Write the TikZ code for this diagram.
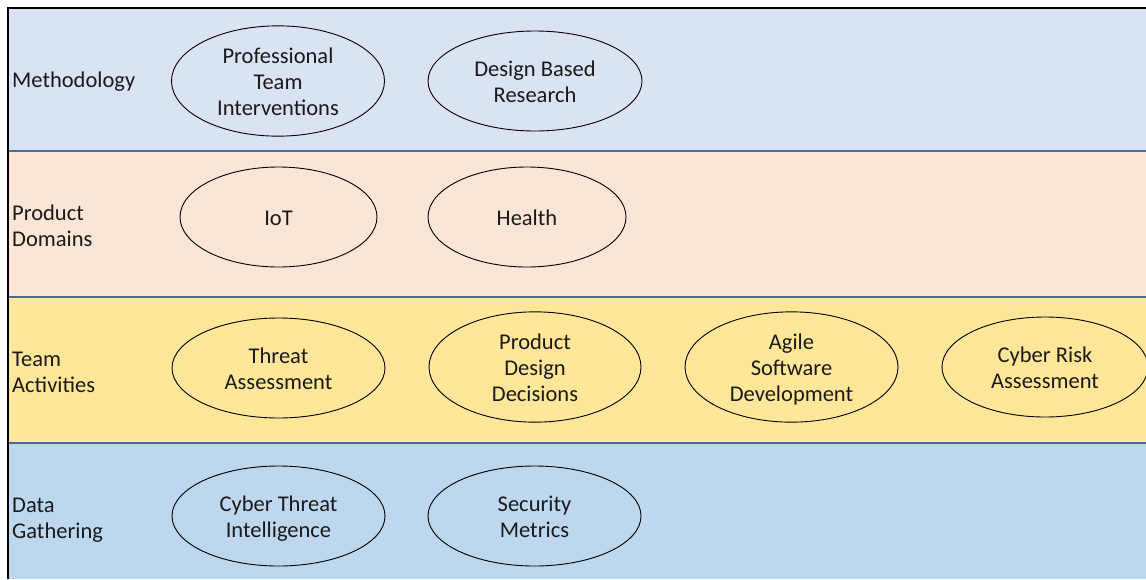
\documentclass[tikz,border=0pt]{standalone}
\usepackage{fontspec}
\setmainfont{Carlito}
\usetikzlibrary{shapes.geometric}
\definecolor{methc}{HTML}{DAE3F3}
\definecolor{prodc}{HTML}{FBE5D6}
\definecolor{teamc}{HTML}{FFE699}
\definecolor{datac}{HTML}{BDD7EE}
\definecolor{sepc}{HTML}{4A6BA0}
\definecolor{txtc}{HTML}{1A1A1A}
\newcommand{\ovtext}[1]{\raisebox{-3.5pt}[\height][\depth]{\begin{tabular}{@{}c@{}}#1\end{tabular}}}
\begin{document}
\begin{tikzpicture}[x=1pt,y=-1pt,
  oval/.style={ellipse, draw=black, line width=0.9pt, inner sep=0pt, text=txtc, align=center,
    font=\fontsize{22.5}{26}\selectfont},
  lbl/.style={anchor=west, text=txtc, align=left, inner sep=0pt, font=\fontsize{22.5}{26}\selectfont}]
\useasboundingbox (0,0) rectangle (1146,579);
\fill[white] (0,0) rectangle (1146,579);
% bands
\fill[methc] (8,8) rectangle (1146,151);
\fill[prodc] (8,151) rectangle (1146,297);
\fill[teamc] (8,297) rectangle (1146,443);
\fill[datac] (8,443) rectangle (1146,579);
% separators
\draw[sepc, line width=2pt] (8,151) -- (1146,151);
\draw[sepc, line width=2pt] (8,297) -- (1146,297);
\draw[sepc, line width=2pt] (8,443) -- (1146,443);
% frame
\draw[black, line width=1.6pt] (1146,8) -- (8,8) -- (8,579);
% labels
\node[lbl] (lmeth) at (12,81.5) {Methodology};
\node[lbl] (lprod) at (12,225.5) {Product\\Domains};
\node[lbl] (lteam) at (12,372.5) {Team\\Activities};
\node[lbl] (ldata) at (12,520.5) {Data\\Gathering};
% ellipses
\node[oval, minimum width=213, minimum height=100] (pti) at (278,81) {\ovtext{Professional\\Team\\Interventions}};
\node[oval, minimum width=214, minimum height=100] (dbr) at (535,81) {\ovtext{Design Based\\Research}};
\node[oval, minimum width=197, minimum height=100] (iot) at (278.5,217) {\ovtext{IoT}};
\node[oval, minimum width=198, minimum height=100] (hea) at (527,217) {\ovtext{Health}};
\node[oval, minimum width=213, minimum height=100] (tha) at (278.5,368) {\ovtext{Threat\\Assessment}};
\node[oval, minimum width=212, minimum height=100] (pdd) at (535,367) {\ovtext{Product\\Design\\Decisions}};
\node[oval, minimum width=213, minimum height=100] (asd) at (791.5,367) {\ovtext{Agile\\Software\\Development}};
\node[oval, minimum width=206, minimum height=100] (cra) at (1045,367) {\ovtext{Cyber Risk\\Assessment}};
\node[oval, minimum width=213, minimum height=100] (cti) at (278.5,516) {\ovtext{Cyber Threat\\Intelligence}};
\node[oval, minimum width=213, minimum height=100] (sme) at (534.5,516) {\ovtext{Security\\Metrics}};
\end{tikzpicture}
\end{document}
